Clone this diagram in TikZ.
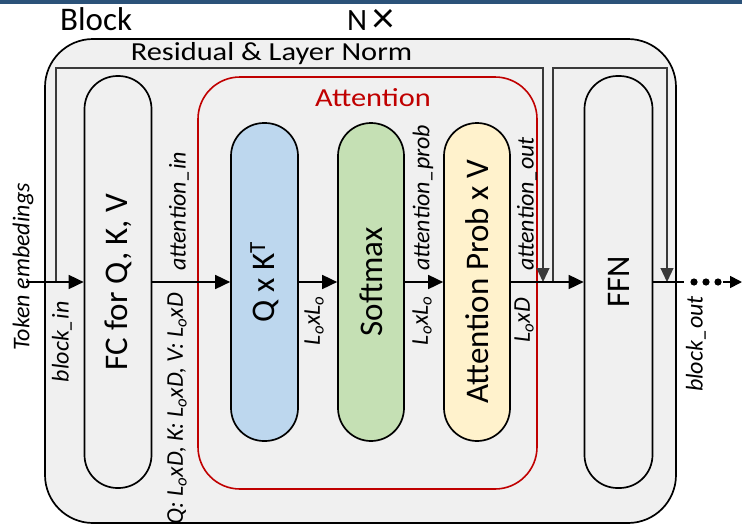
\documentclass[tikz,border=0pt]{standalone}
\usepackage{fontspec}
\setmainfont{Carlito}
\usepackage{graphicx}
\usetikzlibrary{arrows.meta}
\definecolor{bandblue}{HTML}{2B5279}
\definecolor{bgray}{HTML}{F0F0F0}
\definecolor{qkblue}{HTML}{BDD7EE}
\definecolor{smgreen}{HTML}{C5E0B4}
\definecolor{pvyellow}{HTML}{FFF2CC}
\definecolor{attred}{HTML}{C00000}
\definecolor{resgray}{HTML}{3A3A3A}
\begin{document}
\begin{tikzpicture}[x=1pt,y=-1pt,
  pill/.style={draw=black, line width=1.7pt, rounded corners=33pt, minimum width=67pt, inner sep=0pt},
  boxtext/.style={rotate=90, inner sep=0pt, font=\fontsize{33}{36}\selectfont},
  lbl/.style={rotate=90, inner sep=0pt, font=\itshape\fontsize{24}{26}\selectfont},
  arr/.style={line width=1.7pt, -{Triangle[length=15pt,width=14pt]}},
  res/.style={draw=resgray, line width=1.2pt},
  resarr/.style={draw=resgray, line width=1.2pt, -{Triangle[length=14pt,width=13pt]}},
  toptext/.style={inner sep=0pt, font=\fontsize{26}{28}\selectfont, xscale=1.17}
]
\useasboundingbox (0,0) rectangle (742,525);
\fill[white] (0,0) rectangle (742,525);
\fill[bandblue] (0,0) rectangle (742,4);

% titles
\node[anchor=base west, inner sep=0pt, font=\fontsize{33}{36}\selectfont] (blocktitle) at (60,30) {Block};
\node[anchor=base west, inner sep=0pt, font=\fontsize{31}{33}\selectfont] (ntitle) at (347,30) {N\,\raisebox{-2pt}{\fontsize{44}{44}\selectfont ×}};

% outer block
\draw[line width=1.7pt, fill=bgray, rounded corners=48pt] (45,39) rectangle (676,523);
\node[toptext, anchor=base] (restitle) at (271.5,60) {Residual \& Layer Norm};

% attention frame
\draw[draw=attred, line width=1.6pt, rounded corners=42pt] (198,77) rectangle (537,489);
\node[toptext, anchor=base, text=attred] (atttitle) at (373,106) {Attention};

% residual paths
\coordinate (rtop) at (0,68);
\coordinate (r1s) at (56,282);
\coordinate (r1e) at (543,282);
\coordinate (r2s) at (553,282);
\coordinate (r2e) at (667,282);
\draw[resarr] (r1s) -- (r1s |- rtop) -- (r1e |- rtop) -- (r1e);
\draw[resarr] (r2s) -- (r2s |- rtop) -- (r2e |- rtop) -- (r2e);

% boxes
\node[pill, fill=bgray, minimum height=412pt] (fc) at (118,282) {};
\node[pill, fill=qkblue, minimum height=318pt] (qk) at (264.5,282) {};
\node[pill, fill=smgreen, minimum width=66pt, minimum height=318pt] (sm) at (371,282) {};
\node[pill, fill=pvyellow, minimum width=66pt, minimum height=318pt] (pv) at (477,282) {};
\node[pill, fill=bgray, minimum width=68pt, minimum height=412pt] (ffn) at (618.5,282) {};

\node[boxtext] (fct) at (fc) {FC for Q, K, V};
\node[boxtext] (qkt) at (qk) {Q x K\textsuperscript{T}};
\node[boxtext] (smt) at (sm) {Softmax};
\node[boxtext] (pvt) at (pv) {Attention Prob x V};
\node[boxtext] (ffnt) at (ffn) {FFN};

% main flow
\coordinate (in) at (26,282);
\draw[arr] (in) -- (fc.west);
\draw[arr] (fc.east) -- (qk.west);
\draw[arr] (qk.east) -- (sm.west);
\draw[arr] (sm.east) -- (pv.west);
\draw[arr] (pv.east) -- (ffn.west);
\coordinate (outend) at (684,282);
\draw[line width=1.7pt] (ffn.east) -- (outend);
\fill (694,282) circle (3.6pt) (706,282) circle (3.6pt) (718,282) circle (3.6pt);
\coordinate (oa) at (723,282);
\coordinate (ob) at (742,282);
\draw[line width=1.7pt, -{Triangle[length=12pt,width=12pt]}] (oa) -- (ob);

% labels
\node[lbl] (tok) at (23,267) {Token embedings};
\node[lbl, anchor=east] (bin) at (62,301) {block\_in};
\node[lbl, anchor=west] (ain) at (179,271) {attention\_in};
\node[lbl, anchor=east] (qkv) at (177,293) {Q: L\textsubscript{o}xD, K: L\textsubscript{o}xD, V: L\textsubscript{o}xD};
\node[lbl, anchor=east] (l1) at (314,296) {L\textsubscript{o}xL\textsubscript{o}};
\node[lbl, anchor=west] (aprob) at (423,271) {attention\_prob};
\node[lbl, anchor=east] (l2) at (422,296) {L\textsubscript{o}xL\textsubscript{o}};
\node[lbl, anchor=west] (aout) at (527,271) {attention\_out};
\node[lbl, anchor=east] (l3) at (524,298) {L\textsubscript{o}xD};
\node[lbl, anchor=east] (bout) at (696,296) {block\_out};
\end{tikzpicture}
\end{document}
